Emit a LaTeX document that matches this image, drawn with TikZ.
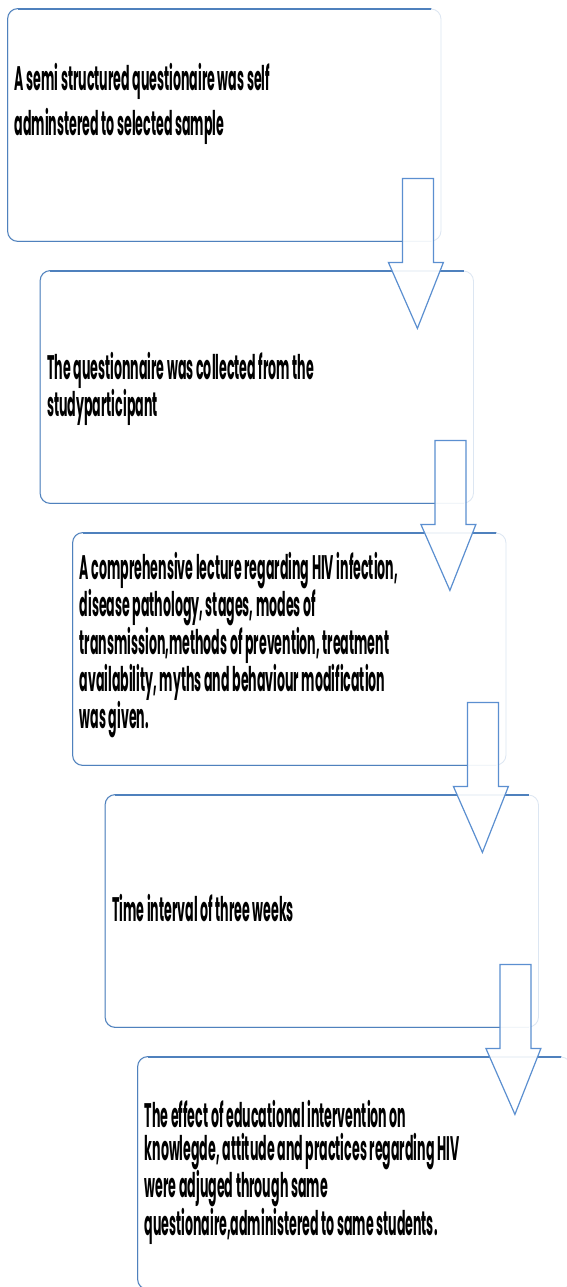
\documentclass[tikz,border=0pt]{standalone}
\usepackage{fontspec}
\usetikzlibrary{calc}
\newfontfamily\flowfont{Poppins}[FakeStretch=0.37]
\definecolor{boxblue}{HTML}{4F81BD}
\definecolor{boxpale}{HTML}{DCE6F2}
\definecolor{arrowblue}{HTML}{5B8FD0}
\tikzset{
  flowbox/.style={rectangle, rounded corners=10bp, draw=boxpale, line width=0.8bp,
    fill=white, minimum width=433bp, minimum height=232bp, inner sep=0pt},
  flowtext/.style={anchor=west, align=left, inner sep=0pt,
    font=\flowfont\bfseries\fontsize{34bp}{#1}\selectfont},
  edgeline/.style={draw=boxblue, line width=1bp, rounded corners=10bp},
  topline/.style={draw=boxblue, line width=2.2bp},
  blockarrow/.style={draw=arrowblue, line width=1.2bp, fill=white, fill opacity=0.92,
    line join=miter},
}
\begin{document}
\begin{tikzpicture}[x=1bp,y=-1bp]
\useasboundingbox (0,0) rectangle (567,1287);
\clip (0,0) rectangle (567,1287);
\fill[white] (0,0) rectangle (567,1287);
% boxes
\node[flowbox] (b1) at (224.5,125) {};
\node[flowbox] (b2) at (257,387) {};
\node[flowbox] (b3) at (289.5,649) {};
\node[flowbox] (b4) at (322,911) {};
\node[flowbox] (b5) at (354.5,1173) {};
\foreach \b in {b1,b2,b3,b4,b5} {
  \draw[edgeline] ([xshift=-10bp]\b.north east) -- (\b.north west) -- (\b.south west) -- ([xshift=-10bp]\b.south east);
  \draw[topline] ([xshift=-10bp]\b.north east) -- ([xshift=10bp]\b.north west);
}
% texts
\node[flowtext=45bp] (t1) at ($(b1.west)+(7,-21)$) {A semi structured questionaire was self\\adminstered to selected sample};
\node[flowtext=32bp] (t2) at ($(b2.west)+(7,2)$) {The questionnaire was collected from the\\studyparticipant};
\node[flowtext=30bp] (t3) at ($(b3.west)+(7,-4)$) {A comprehensive lecture regarding HIV infection,\\disease pathology, stages, modes of\\transmission,methods of prevention, treatment\\availability, myths and behaviour modification\\was given.};
\node[flowtext=30bp] (t4) at ($(b4.west)+(7,-3)$) {Time interval of three weeks};
\node[flowtext=33bp] (t5) at ($(b5.west)+(7,-1)$) {The effect of educational intervention on\\knowlegde, attitude and practices regarding HIV\\were adjuged through same\\questionaire,administered to same students.};
% block arrows
\foreach \b in {b1,b2,b3,b4} {
  \draw[blockarrow] ($(\b.south east)+(-39,-63)$) -- ($(\b.south east)+(-39,21)$)
    -- ($(\b.south east)+(-53,21)$) -- ($(\b.south east)+(-24,87)$)
    -- ($(\b.south east)+(2,21)$) -- ($(\b.south east)+(-8,21)$)
    -- ($(\b.south east)+(-8,-63)$) -- cycle;
}
\end{tikzpicture}
\end{document}
